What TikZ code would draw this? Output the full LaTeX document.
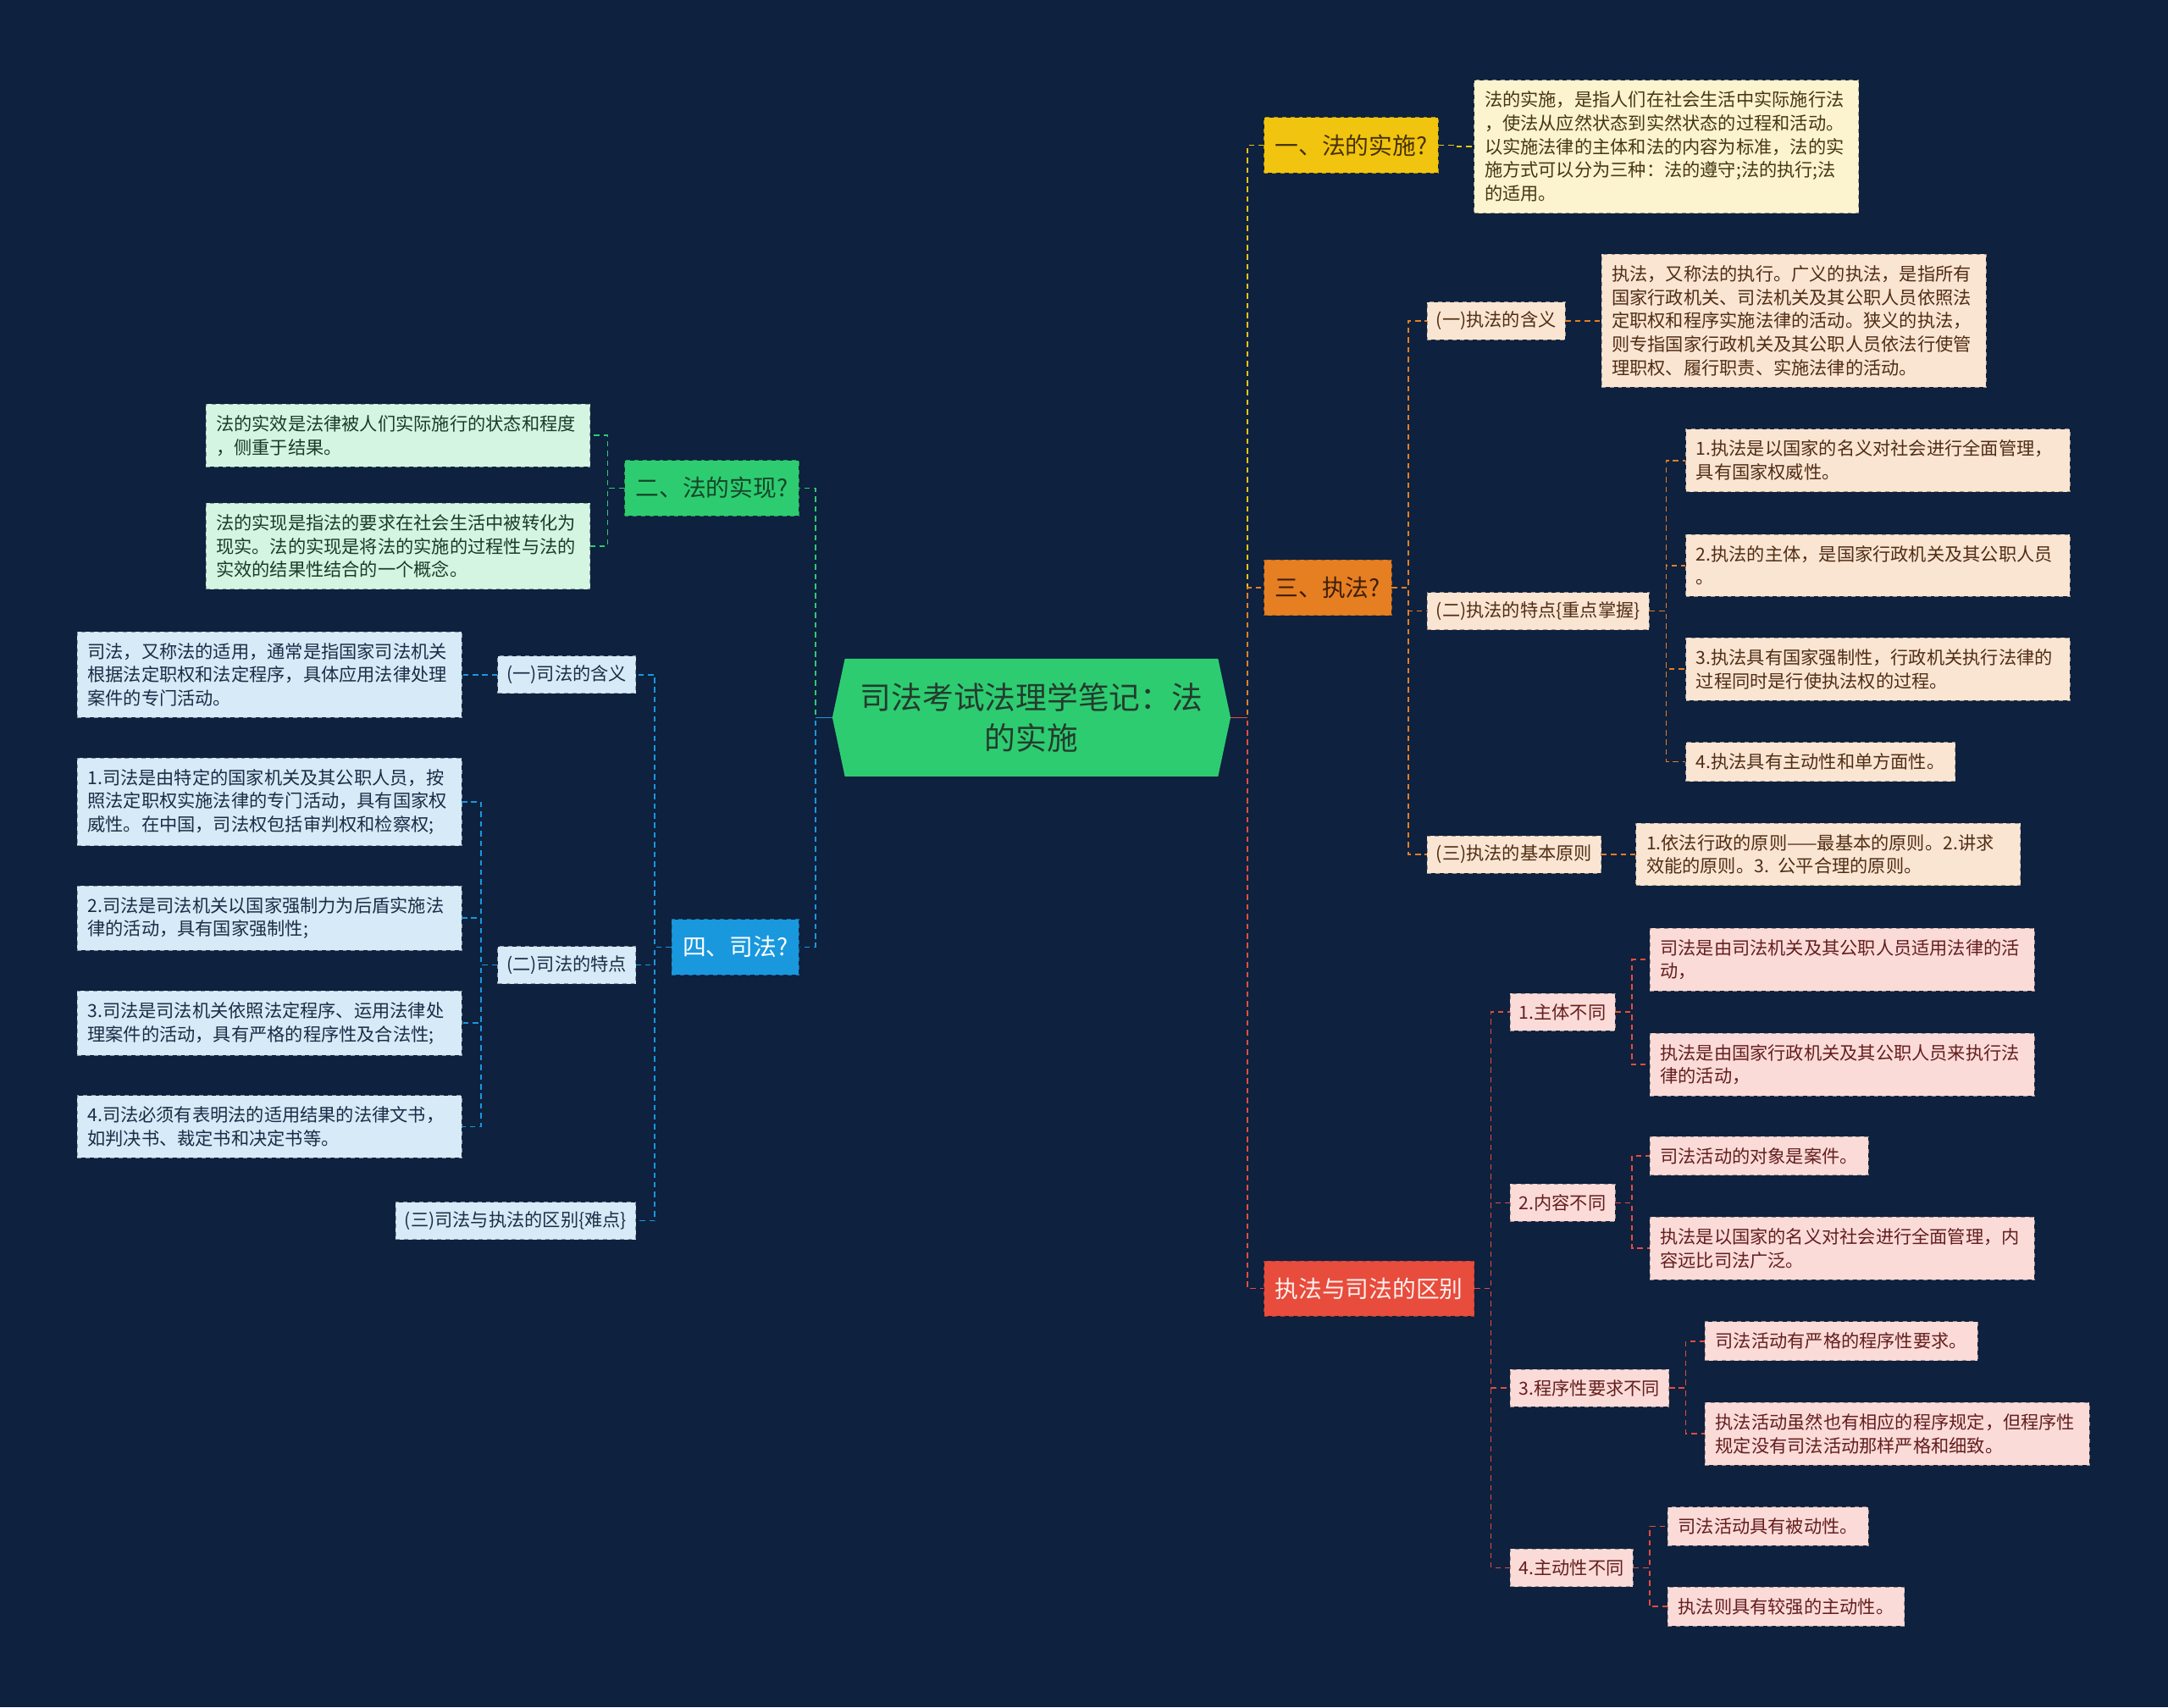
\documentclass[tikz,border=0pt]{standalone}
\usepackage{fontspec}
\setmainfont{Noto Sans CJK SC}
\usepackage{tikz}
\usetikzlibrary{shapes.symbols}

\definecolor{bgc}{RGB}{14,33,62}
\definecolor{rootF}{RGB}{46,204,113}
\definecolor{rootT}{RGB}{35,60,45}
\definecolor{yelB}{RGB}{241,196,15}
\definecolor{yelT}{RGB}{70,50,10}
\definecolor{yelL}{RGB}{252,243,207}
\definecolor{yelLT}{RGB}{70,55,15}
\definecolor{orgB}{RGB}{230,126,34}
\definecolor{orgT}{RGB}{60,30,10}
\definecolor{orgL}{RGB}{250,229,211}
\definecolor{orgLT}{RGB}{80,45,20}
\definecolor{redB}{RGB}{231,76,60}
\definecolor{redT}{RGB}{255,240,238}
\definecolor{redL}{RGB}{250,219,216}
\definecolor{redLT}{RGB}{100,30,30}
\definecolor{grnB}{RGB}{46,204,113}
\definecolor{grnT}{RGB}{20,70,40}
\definecolor{grnL}{RGB}{213,245,227}
\definecolor{grnLT}{RGB}{25,60,40}
\definecolor{bluB}{RGB}{25,152,222}
\definecolor{bluT}{RGB}{255,255,255}
\definecolor{bluL}{RGB}{214,234,248}
\definecolor{bluLT}{RGB}{25,45,70}

\begin{document}
\begin{tikzpicture}[
		x=1pt, y=-1pt,
		root/.style ={
			signal, signal to=west and east, signal pointer angle=156,
			fill=rootF,	text=rootT,	font=\fontsize{22.5}{30}\selectfont,
			align=center, text width=250pt, inner xsep=0pt, inner ysep=0pt,
			minimum width=288pt, minimum height=85pt
		},
		branch/.style ={
			rectangle,	fill=#1B,	draw=#1B!75!black,	dashed,	text=#1T,
			font=\fontsize{17}{20}\selectfont,	inner xsep=8pt,	inner ysep=0pt,	minimum height=40pt
		},
		sub/.style ={
			rectangle,	fill=#1L,	draw=#1L!65!black,	dashed,	text=#1LT,
			font=\fontsize{13}{17}\selectfont,	inner xsep=6.5pt,	inner ysep=0pt,	minimum height=27pt
		},
		leaf/.style ={
			rectangle,	fill=#1L,	draw=#1L!65!black,	dashed,	text=#1LT,
			font=\fontsize{13}{17}\selectfont,	align=left,	inner xsep=7.5pt,	inner ysep=8pt
		},
		wide/.style ={text width=263pt},
		lnk/.style ={draw=#1, line width=1pt, dash pattern=on 4pt off 3pt},
	]

	\fill [bgc] (0,0) rectangle (1568,1235);
	\useasboundingbox (0,0) rectangle (1568,1235);

	% nodes
	\node (root) at (746,519) [root] {司法考试法理学笔记：法\\的实施};

	\node (shishi)  at (914,105) [branch=yel, anchor=west] {一、法的实施?};
	\node (zhifa)   at (914,425) [branch=org, anchor=west] {三、执法?};
	\node (qubie)   at (914,932) [branch=red, anchor=west] {执法与司法的区别};
	\node (shixian) at (578,353) [branch=grn, anchor=east] {二、法的实现?};
	\node (sifa)    at (578,685) [branch=blu, anchor=east] {四、司法?};

	\node (shishi-t) at (1066,106) [leaf=yel, wide, anchor=west] {法的实施，是指人们在社会生活中实际施行法\\，使法从应然状态到实然状态的过程和活动。\\以实施法律的主体和法的内容为标准，法的实\\施方式可以分为三种：法的遵守;法的执行;法\\的适用。};

	\node (zhifa-hanyi)  at (1032,232) [sub=org, anchor=west] {(一)执法的含义};
	\node (zhifa-tedian) at (1032,442) [sub=org, anchor=west] {(二)执法的特点\{重点掌握\}};
	\node (zhifa-yuanze) at (1032,618) [sub=org, anchor=west] {(三)执法的基本原则};

	\node (zhifa-hanyi-t) at (1158,232) [leaf=org, wide, anchor=west] {执法，又称法的执行。广义的执法，是指所有\\国家行政机关、司法机关及其公职人员依照法\\定职权和程序实施法律的活动。狭义的执法，\\则专指国家行政机关及其公职人员依法行使管\\理职权、履行职责、实施法律的活动。};
	\node (tedian-1) at (1219,333) [leaf=org, wide, anchor=west] {1.执法是以国家的名义对社会进行全面管理，\\具有国家权威性。};
	\node (tedian-2) at (1219,409) [leaf=org, wide, anchor=west] {2.执法的主体，是国家行政机关及其公职人员\\。};
	\node (tedian-3) at (1219,484) [leaf=org, wide, anchor=west] {3.执法具有国家强制性，行政机关执行法律的\\过程同时是行使执法权的过程。};
	\node (tedian-4) at (1219,551) [leaf=org, anchor=west] {4.执法具有主动性和单方面性。};
	\node (zhifa-yuanze-t) at (1183,618) [leaf=org, wide, anchor=west] {1.依法行政的原则——最基本的原则。2.讲求\\效能的原则。3. 公平合理的原则。};

	\node (qubie-1) at (1092,732)  [sub=red, anchor=west] {1.主体不同};
	\node (qubie-2) at (1092,870)  [sub=red, anchor=west] {2.内容不同};
	\node (qubie-3) at (1092,1004) [sub=red, anchor=west] {3.程序性要求不同};
	\node (qubie-4) at (1092,1134) [sub=red, anchor=west] {4.主动性不同};

	\node (qubie-1a) at (1193,694)  [leaf=red, wide, anchor=west] {司法是由司法机关及其公职人员适用法律的活\\动，};
	\node (qubie-1b) at (1193,770)  [leaf=red, wide, anchor=west] {执法是由国家行政机关及其公职人员来执行法\\律的活动，};
	\node (qubie-2a) at (1193,836)  [leaf=red, anchor=west] {司法活动的对象是案件。};
	\node (qubie-2b) at (1193,903)  [leaf=red, wide, anchor=west] {执法是以国家的名义对社会进行全面管理，内\\容远比司法广泛。};
	\node (qubie-3a) at (1233,970)  [leaf=red, anchor=west] {司法活动有严格的程序性要求。};
	\node (qubie-3b) at (1233,1037) [leaf=red, wide, anchor=west] {执法活动虽然也有相应的程序规定，但程序性\\规定没有司法活动那样严格和细致。};
	\node (qubie-4a) at (1206,1104) [leaf=red, anchor=west] {司法活动具有被动性。};
	\node (qubie-4b) at (1206,1162) [leaf=red, anchor=west] {执法则具有较强的主动性。};

	\node (shixian-a) at (427,315) [leaf=grn, wide, anchor=east] {法的实效是法律被人们实际施行的状态和程度\\，侧重于结果。};
	\node (shixian-b) at (427,395) [leaf=grn, wide, anchor=east] {法的实现是指法的要求在社会生活中被转化为\\现实。法的实现是将法的实施的过程性与法的\\实效的结果性结合的一个概念。};

	\node (sifa-hanyi)  at (460,488) [sub=blu, anchor=east] {(一)司法的含义};
	\node (sifa-tedian) at (460,698) [sub=blu, anchor=east] {(二)司法的特点};
	\node (sifa-qubie)  at (460,883) [sub=blu, anchor=east] {(三)司法与执法的区别\{难点\}};

	\node (sifa-hanyi-t) at (334,488) [leaf=blu, wide, anchor=east] {司法，又称法的适用，通常是指国家司法机关\\根据法定职权和法定程序，具体应用法律处理\\案件的专门活动。};
	\node (sifa-tedian-1) at (334,580) [leaf=blu, wide, anchor=east] {1.司法是由特定的国家机关及其公职人员，按\\照法定职权实施法律的专门活动，具有国家权\\威性。在中国，司法权包括审判权和检察权;};
	\node (sifa-tedian-2) at (334,664) [leaf=blu, wide, anchor=east] {2.司法是司法机关以国家强制力为后盾实施法\\律的活动，具有国家强制性;};
	\node (sifa-tedian-3) at (334,740) [leaf=blu, wide, anchor=east] {3.司法是司法机关依照法定程序、运用法律处\\理案件的活动，具有严格的程序性及合法性;};
	\node (sifa-tedian-4) at (334,815) [leaf=blu, wide, anchor=east] {4.司法必须有表明法的适用结果的法律文书，\\如判决书、裁定书和决定书等。};

	% interconnections
	\foreach \b/\c in {shishi/yelB, zhifa/orgB, qubie/redB}
		\draw [lnk=\c] (root.east) -- ++(12,0) |- (\b.west);
	\foreach \b/\c in {shixian/grnB, sifa/bluB}
		\draw [lnk=\c] (root.west) -- ++(-12,0) |- (\b.east);
	\draw [redB, line width=1pt] (root.east) -- ++(12,0);
	\draw [bluB, line width=1pt] (root.west) -- ++(-12,0);

	\draw [lnk=yelB] (shishi.east) -- ++(12,0) |- (shishi-t.west);
	\foreach \i in {hanyi,tedian,yuanze}
		\draw [lnk=orgB] (zhifa.east) -- ++(12,0) |- (zhifa-\i.west);
	\draw [lnk=orgB] (zhifa-hanyi.east) -- ++(12,0) |- (zhifa-hanyi-t.west);
	\foreach \i in {1,...,4}
		\draw [lnk=orgB] (zhifa-tedian.east) -- ++(12,0) |- (tedian-\i.west);
	\draw [lnk=orgB] (zhifa-yuanze.east) -- ++(12,0) |- (zhifa-yuanze-t.west);
	\foreach \i in {1,...,4} {
		\draw [lnk=redB] (qubie.east) -- ++(12,0) |- (qubie-\i.west);
		\foreach \j in {a,b}
			\draw [lnk=redB] (qubie-\i.east) -- ++(12,0) |- (qubie-\i\j.west);
	}

	\foreach \i in {a,b}
		\draw [lnk=grnB] (shixian.west) -- ++(-12,0) |- (shixian-\i.east);
	\foreach \i in {hanyi,tedian,qubie}
		\draw [lnk=bluB] (sifa.west) -- ++(-12,0) |- (sifa-\i.east);
	\draw [lnk=bluB] (sifa-hanyi.west) -- ++(-12,0) |- (sifa-hanyi-t.east);
	\foreach \i in {1,...,4}
		\draw [lnk=bluB] (sifa-tedian.west) -- ++(-12,0) |- (sifa-tedian-\i.east);

\end{tikzpicture}
\end{document}
